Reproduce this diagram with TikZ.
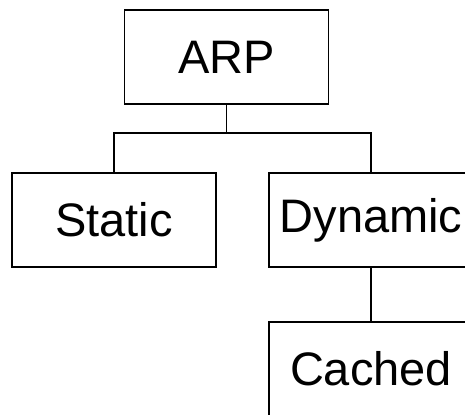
\documentclass[tikz,border=0pt]{standalone}
\usepackage{fontspec}
\setmainfont{Liberation Sans}
\begin{document}
\begin{tikzpicture}[x=0.5pt,y=-0.5pt,line width=0.7pt]
\tikzset{box/.style={draw, rectangle, minimum width=102pt, minimum height=47pt, inner sep=0pt, font=\fontsize{23.5}{28}\selectfont}}
\clip (0,0) rectangle (465,414);
\node[box] (arp) at (226.5,57) {ARP};
\node[box] (static) at (114,220) {Static};
\node[box] (dynamic) at (371,220) {Dynamic};
\node[box] (cached) at (371,369) {Cached};
\coordinate (fork) at (226.5,133);
\path[draw] (arp.south) -- (fork) -| (static.north);
\path[draw] (fork) -| (dynamic.north);
\path[draw] (dynamic.south) -- (cached.north);
\end{tikzpicture}
\end{document}
